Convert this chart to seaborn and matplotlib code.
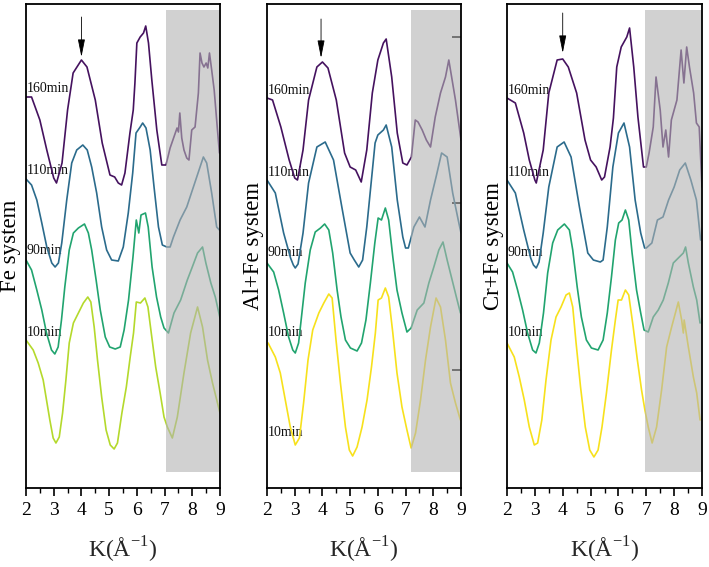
import matplotlib
matplotlib.use("Agg")
import matplotlib.pyplot as plt
from matplotlib.ticker import MultipleLocator
import pandas as pd
import seaborn as sns

sns.set_theme(style="white")
plt.rcParams["font.family"] = ["Liberation Serif", "DejaVu Serif"]
plt.rcParams["mathtext.fontset"] = "custom"
plt.rcParams["mathtext.rm"] = "Liberation Serif"

# ---------------- data (k in 1/Å, stacked signal in plot units) ----------------
series_names = ["160min", "110min", "90min", "10min"]
panel_titles = ["Fe system", "Al+Fe system", "Cr+Fe system"]

fe_160_k = [2.0,2.2,2.5,2.75,3.0,3.1,3.3,3.5,3.7,4.0,4.2,4.5,4.75,5.03,5.2,5.33,5.45,5.57,5.75,5.87,5.93,6.0,6.12,6.24,6.32,6.42,6.54,6.72,6.9,7.05,7.2,7.35,7.45,7.5,7.55,7.62,7.7,7.8,7.88,7.98,8.1,8.22,8.28,8.35,8.42,8.5,8.56,8.62,8.7,8.79,8.9,8.98]
fe_160_h = [391,391,368,338,310,305,325,378,415,428,421,388,345,313,311,305,303,315,355,378,405,445,451,455,462,445,408,358,323,323,340,352,360,356,375,350,338,330,328,358,361,395,435,425,421,425,420,435,418,398,361,335]
fe_110_k = [2.0,2.2,2.39,2.57,2.75,2.93,3.05,3.17,3.29,3.47,3.65,3.83,4.05,4.21,4.37,4.55,4.73,4.91,5.09,5.33,5.51,5.69,5.85,5.97,6.12,6.21,6.33,6.48,6.62,6.78,6.92,7.08,7.2,7.32,7.56,7.8,8.04,8.28,8.4,8.52,8.7,8.88,8.98]
fe_110_h = [309,303,288,265,241,225,221,225,245,288,325,338,343,338,321,295,261,238,228,227,241,275,315,355,361,365,360,338,301,261,243,241,241,251,268,281,301,321,331,325,295,261,258]
fe_90_k = [2.0,2.2,2.39,2.57,2.74,2.92,3.04,3.16,3.28,3.4,3.56,3.71,3.89,4.11,4.25,4.37,4.53,4.68,4.86,5.02,5.22,5.4,5.54,5.7,5.86,5.98,6.07,6.15,6.31,6.41,6.55,6.71,6.86,6.98,7.14,7.34,7.58,7.82,8.0,8.19,8.37,8.49,8.67,8.83,9.0]
fe_90_h = [228,218,198,178,155,138,134,141,168,201,238,255,260,264,255,238,208,178,151,141,139,141,158,188,231,268,255,273,275,261,221,191,171,160,155,175,188,208,221,235,241,225,205,191,170]
fe_10_k = [2.0,2.26,2.44,2.62,2.74,2.86,2.98,3.08,3.2,3.32,3.44,3.56,3.71,3.89,4.07,4.23,4.34,4.46,4.58,4.73,4.89,5.04,5.18,5.3,5.46,5.62,5.76,5.88,5.98,6.13,6.29,6.4,6.52,6.68,6.84,6.98,7.1,7.28,7.46,7.7,7.94,8.19,8.37,8.55,8.73,9.0]
fe_10_h = [148,138,125,108,88,68,50,45,51,75,108,145,165,175,185,191,186,161,128,91,58,43,39,45,75,101,131,155,186,185,190,181,155,121,95,71,61,50,71,115,155,181,161,128,105,75]

al_160_k = [2.0,2.2,2.5,2.8,3.0,3.1,3.3,3.5,3.8,4.0,4.2,4.5,4.8,5.0,5.2,5.4,5.6,5.8,6.0,6.2,6.3,6.5,6.7,6.9,7.05,7.21,7.35,7.45,7.6,7.75,7.9,8.07,8.26,8.44,8.56,8.68,8.8,9.0]
al_160_h = [390,388,361,328,310,308,338,388,421,426,420,388,335,321,318,306,338,395,428,445,449,411,355,325,323,331,368,366,358,348,341,371,395,411,428,408,388,348]
al_110_k = [2.0,2.3,2.6,2.85,2.95,3.02,3.12,3.3,3.5,3.8,4.1,4.4,4.7,5.0,5.15,5.31,5.45,5.6,5.9,6.0,6.2,6.3,6.5,6.7,6.9,7.0,7.1,7.3,7.5,7.7,7.9,8.1,8.3,8.5,8.7,8.9,9.0]
al_110_h = [308,295,255,230,223,220,224,255,305,341,346,328,281,235,228,221,228,261,345,353,358,363,341,288,251,240,240,261,271,261,288,311,335,331,295,268,255]
al_90_k = [2.0,2.24,2.42,2.6,2.78,2.93,3.02,3.14,3.26,3.38,3.56,3.74,3.93,4.08,4.23,4.37,4.53,4.67,4.83,5.01,5.25,5.41,5.57,5.73,5.89,6.01,6.13,6.27,6.39,6.54,6.69,6.87,7.05,7.2,7.42,7.66,7.84,8.02,8.2,8.35,8.5,8.68,8.86,8.98]
al_90_h = [225,216,198,175,151,138,135,145,175,205,238,256,260,264,258,235,198,171,148,140,137,145,168,205,245,270,268,280,268,231,198,175,156,160,178,185,205,221,238,246,228,208,188,175]
al_10_k = [2.04,2.3,2.48,2.66,2.84,3.02,3.17,3.32,3.48,3.65,3.87,4.05,4.23,4.35,4.49,4.65,4.83,4.97,5.09,5.25,5.43,5.61,5.77,5.91,6.01,6.13,6.27,6.39,6.54,6.69,6.87,7.05,7.2,7.36,7.54,7.72,7.9,8.1,8.26,8.44,8.62,8.8,8.98]
al_10_h = [145,131,115,88,61,43,50,85,128,158,175,185,194,190,148,105,61,38,32,41,61,88,121,155,188,190,200,191,155,115,81,58,40,55,88,128,161,190,181,148,105,85,68]

cr_160_k = [2.0,2.3,2.6,2.8,3.0,3.05,3.3,3.5,3.8,4.0,4.2,4.5,4.8,5.0,5.2,5.4,5.5,5.7,5.82,5.94,6.1,6.3,6.4,6.55,6.7,6.9,7.0,7.1,7.25,7.35,7.5,7.6,7.7,7.8,7.9,8.1,8.25,8.35,8.45,8.55,8.7,8.8,8.9,9.0]
cr_160_h = [390,385,355,328,308,305,338,395,428,429,421,395,348,328,321,308,311,341,370,421,441,451,460,421,371,321,321,335,361,411,378,341,358,331,368,388,438,405,441,421,395,365,361,301]
cr_110_k = [2.0,2.3,2.6,2.85,2.95,3.05,3.15,3.3,3.5,3.8,4.05,4.3,4.6,4.9,5.1,5.35,5.45,5.6,5.8,6.0,6.2,6.4,6.6,6.8,6.94,7.0,7.2,7.4,7.6,7.8,8.0,8.2,8.4,8.6,8.8,8.95]
cr_110_h = [308,295,258,230,223,220,226,255,301,341,346,331,281,235,228,226,228,261,321,355,365,341,288,255,240,240,245,268,271,288,301,318,325,308,288,248]
cr_90_k = [2.0,2.2,2.38,2.56,2.74,2.92,3.04,3.16,3.31,3.46,3.64,3.82,4.06,4.24,4.36,4.52,4.67,4.85,5.03,5.27,5.45,5.6,5.75,5.89,6.01,6.13,6.25,6.37,6.49,6.65,6.8,6.92,7.07,7.25,7.43,7.61,7.79,7.97,8.15,8.33,8.41,8.51,8.69,8.81,8.93]
cr_90_h = [225,216,198,178,155,138,135,145,175,215,245,258,264,258,238,201,171,148,140,138,148,175,211,248,265,268,278,268,235,198,175,158,156,171,178,188,205,225,230,235,241,225,201,188,165]
cr_10_k = [2.0,2.26,2.44,2.62,2.8,2.98,3.1,3.25,3.4,3.58,3.76,3.94,4.12,4.24,4.36,4.48,4.64,4.81,4.97,5.12,5.27,5.41,5.57,5.75,5.89,5.99,6.11,6.25,6.37,6.53,6.68,6.83,6.95,7.07,7.21,7.37,7.55,7.73,7.91,8.15,8.27,8.33,8.36,8.51,8.69,8.81,8.93]
cr_10_h = [145,131,111,88,61,43,45,68,108,148,171,181,193,195,181,145,101,61,38,31,38,61,95,138,168,188,188,198,193,161,128,98,78,61,45,61,98,141,161,186,168,155,168,141,111,95,68]

# time labels: (text, height) per panel
fe_labels = [("160min", 399), ("110min", 318), ("90min", 238), ("10min", 155)]
al_labels = [("160min", 397), ("110min", 315), ("90min", 235), ("10min", 155), ("10min", 55)]
cr_labels = [("160min", 398), ("110min", 316), ("90min", 235), ("10min", 156)]

shade_start = [7.05, 7.21, 6.96]
arrow_k = [4.0, 3.95, 4.0]
arrow_tip = [431, 430, 435]
arrow_tail = [471, 469, 475]

palettes = [
    ["#45125f", "#2b6b8c", "#21a46f", "#b4d92c"],
    ["#45125f", "#2b6b8c", "#21a46f", "#f7e11c"],
    ["#45125f", "#2b6b8c", "#21a46f", "#f7e11c"],
]

panels = [
    [(fe_160_k, fe_160_h), (fe_110_k, fe_110_h), (fe_90_k, fe_90_h), (fe_10_k, fe_10_h)],
    [(al_160_k, al_160_h), (al_110_k, al_110_h), (al_90_k, al_90_h), (al_10_k, al_10_h)],
    [(cr_160_k, cr_160_h), (cr_110_k, cr_110_h), (cr_90_k, cr_90_h), (cr_10_k, cr_10_h)],
]
panel_labels = [fe_labels, al_labels, cr_labels]

# ---------------- figure ----------------
W, H = 709, 567
fig = plt.figure(figsize=(W / 100, H / 100), dpi=100)
ax_px = [(26, 220), (267, 461), (507, 702)]
top_px, bot_px = 4, 488
ylabel_x = [11, 254, 493.5]

for i, (x0, x1) in enumerate(ax_px):
    ax = fig.add_axes([x0 / W, 1 - bot_px / H, (x1 - x0) / W, (bot_px - top_px) / H])
    frames = []
    for name, (kk, hh) in zip(series_names, panels[i]):
        frames.append(pd.DataFrame({"k": kk, "h": hh, "series": name}))
    df = pd.concat(frames, ignore_index=True)
    sns.lineplot(data=df, x="k", y="h", hue="series", hue_order=series_names,
                 palette=palettes[i], estimator=None, sort=False, legend=False,
                 linewidth=1.2, ax=ax, zorder=1.5)

    ax.set_xlim(2, 9)
    ax.set_ylim(0, bot_px - top_px)

    # shaded region (over the curves, under the axis ticks)
    ax.axvspan(shade_start[i], 8.99, ymin=16 / 484, ymax=478 / 484,
               facecolor="#b3b3b3", alpha=0.6, edgecolor="none", zorder=2.2)

    for txt, hv in panel_labels[i]:
        ax.text(2.03, hv, txt, fontsize=10, ha="left", va="center", zorder=1, color="#111111")

    ax.annotate("", xy=(arrow_k[i], arrow_tip[i]), xytext=(arrow_k[i], arrow_tail[i]),
                arrowprops=dict(arrowstyle="-|>,head_length=0.9,head_width=0.18",
                                color="black", lw=0.6, shrinkA=0, shrinkB=0))

    ax.xaxis.set_major_locator(MultipleLocator(1))
    ax.xaxis.set_minor_locator(MultipleLocator(0.5))
    ax.tick_params(axis="x", which="major", bottom=True, direction="out", length=6,
                   width=1.2, labelsize=14, pad=4, colors="black")
    ax.tick_params(axis="x", which="minor", bottom=True, direction="out", length=3.5,
                   width=1.0, colors="black")

    if i == 1:
        ax.yaxis.tick_right()
        ax.set_yticks([118, 285, 451])
        ax.tick_params(axis="y", which="major", right=True, left=False, direction="in",
                       length=6.5, width=1.3, colors="black",
                       labelright=False, labelleft=False)
    else:
        ax.set_yticks([])

    for sp in ax.spines.values():
        sp.set_color("black")
        sp.set_linewidth(1.3)
        sp.set_zorder(3)

    ax.set_xlabel("K(Å$^{-1}$)", fontsize=17, va="center")
    ax.xaxis.set_label_coords(0.5, -62 / 484)
    ax.set_ylabel(panel_titles[i], fontsize=16.5, va="center", color="black")
    ax.yaxis.set_label_coords((ylabel_x[i] - x0) / (x1 - x0), 0.5)

fig.savefig("out.png", dpi=100)
